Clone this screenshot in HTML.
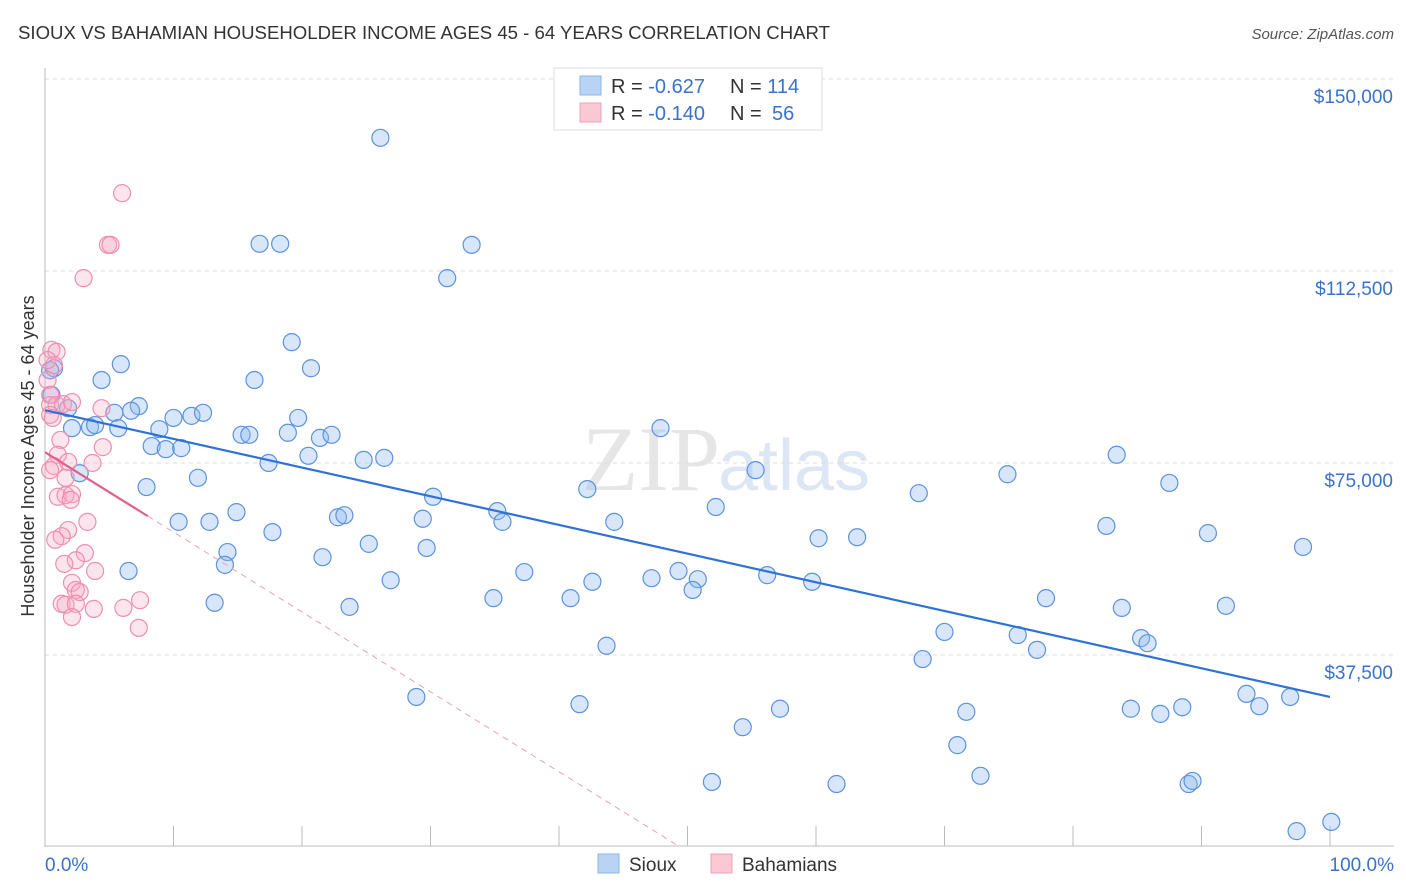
<!DOCTYPE html>
<html><head><meta charset="utf-8">
<style>
body{margin:0;background:#fff;font-family:"Liberation Sans",sans-serif;}
svg{display:block}
</style></head>
<body>
<svg id="chart" width="1406" height="892" xmlns="http://www.w3.org/2000/svg">
<text x="18" y="39" font-size="18" fill="#333" textLength="812" lengthAdjust="spacingAndGlyphs">SIOUX VS BAHAMIAN HOUSEHOLDER INCOME AGES 45 - 64 YEARS CORRELATION CHART</text>
<text x="1394" y="39" font-size="15" fill="#555" font-style="italic" text-anchor="end">Source: ZipAtlas.com</text>
<text x="720" y="490" font-size="92" fill="#e6e6e6" text-anchor="end" font-family="Liberation Serif">ZIP</text>
<text x="718" y="490" font-size="72" fill="#dde6f4">atlas</text>
<g id="grid"></g><g id="marks"></g>
<text transform="translate(34,456) rotate(-90)" font-size="18" fill="#333" text-anchor="middle">Householder Income Ages 45 - 64 years</text>
<g>
<rect x="554" y="68" width="268" height="62" fill="#fff" stroke="#ddd"/>
<rect x="580" y="76" width="21" height="19" fill="#b9d3f5" stroke="#8fb4e8"/>
<text x="611" y="93" font-size="20" fill="#333">R = <tspan fill="#3a72c9">-0.627</tspan></text>
<text x="730" y="93" font-size="20" fill="#333">N = <tspan fill="#3a72c9">114</tspan></text>
<rect x="580" y="103" width="21" height="19" fill="#fbc8d6" stroke="#f0a0b8"/>
<text x="611" y="120" font-size="20" fill="#333">R = <tspan fill="#3a72c9">-0.140</tspan></text>
<text x="730" y="120" font-size="20" fill="#333">N = <tspan x="772" fill="#3a72c9">56</tspan></text>
</g>
<g>
<rect x="598" y="854" width="21" height="19" fill="#b9d3f5" stroke="#8fb4e8"/>
<text x="629" y="871" font-size="19" fill="#333">Sioux</text>
<rect x="711" y="854" width="21" height="19" fill="#fbc8d6" stroke="#f0a0b8"/>
<text x="742" y="871" font-size="19" fill="#333">Bahamians</text>
</g>
</svg>
<script>
const yTicks=[37500,75000,112500,150000];
const yTickLabels=["$37,500","$75,000","$112,500","$150,000"];
const xEndLabels=["0.0%","100.0%"];
const siouxX=[26.1,16.7,18.3,33.2,31.3,19.2,5.9,20.7,4.4,16.3,0.7,0.5,1.8,7.3,6.7,5.4,10.0,11.4,12.3,19.7,2.1,3.5,3.9,5.7,8.9,15.3,15.9,18.9,21.4,22.3,47.9,8.3,9.4,10.6,20.5,24.8,26.4,17.4,83.4,55.3,74.9,87.5,11.9,2.7,7.9,42.2,30.2,68.0,52.2,35.2,14.9,22.8,23.3,29.4,35.6,10.4,12.8,44.3,82.6,17.7,90.5,60.2,63.2,25.2,97.9,29.7,14.2,21.6,14.0,6.5,37.3,49.3,56.2,47.2,50.8,26.9,42.6,59.7,50.4,34.9,40.9,77.9,13.2,23.7,83.8,91.9,70.0,75.7,85.3,85.8,43.7,77.2,68.3,28.9,93.5,94.5,96.9,41.6,57.2,71.7,84.5,86.8,88.5,54.3,71.0,72.8,51.9,61.6,89.0,89.3,97.4,100.1,0.4];
const siouxY=[138.5,117.8,117.8,117.6,111.1,98.6,94.3,93.5,91.2,91.2,93.5,88.3,85.7,86.1,85.2,84.8,83.8,84.2,84.8,83.8,81.8,82.0,82.4,81.8,81.6,80.5,80.5,80.9,79.9,80.5,81.8,78.3,77.7,77.9,76.4,75.6,76.0,75.0,76.6,73.6,72.8,71.1,72.1,73.0,70.3,69.9,68.4,69.1,66.4,65.6,65.4,64.4,64.8,64.1,63.5,63.5,63.5,63.5,62.7,61.5,61.3,60.3,60.5,59.2,58.6,58.4,57.6,56.6,55.1,53.9,53.7,53.9,53.1,52.5,52.3,52.1,51.8,51.8,50.2,48.6,48.6,48.6,47.7,46.9,46.7,47.1,42.0,41.4,40.8,39.8,39.3,38.5,36.7,29.3,29.9,27.5,29.3,27.9,27.0,26.4,27.0,26.0,27.3,23.4,19.9,13.9,12.7,12.3,12.3,12.9,3.1,4.9,93.1];
const bahX=[6.0,4.9,5.1,3.0,0.5,0.9,0.2,0.7,0.4,0.4,0.9,1.4,2.1,4.4,0.4,0.6,1.2,4.5,1.0,3.7,0.7,1.8,1.6,1.0,1.6,2.1,2.0,3.3,1.8,1.3,0.8,3.1,2.4,1.5,3.9,2.1,2.4,2.7,7.4,1.3,1.6,2.4,3.8,6.1,2.1,7.3,0.2,0.4];
const bahY=[127.7,117.6,117.6,111.1,97.1,96.7,91.2,94.1,88.3,86.3,86.3,86.5,86.9,85.7,84.4,83.8,79.5,78.1,76.6,75.0,74.4,75.2,72.1,68.4,68.7,68.9,67.8,63.5,61.9,60.7,60.0,57.4,56.0,55.3,53.9,51.6,50.2,49.8,48.2,47.5,47.3,47.5,46.5,46.7,44.9,42.8,95.1,73.6];
const siouxTrend=[85.3,-0.56];
const bahTrend=[77.1,-1.56];
const bahSolidEnd=8;

const NS="http://www.w3.org/2000/svg";
const X=v=>45+v*12.85;
function yk(k){return 847-k/0.1953;}
function mk(tag,attrs,parent){const e=document.createElementNS(NS,tag);for(const k in attrs)e.setAttribute(k,attrs[k]);parent.appendChild(e);return e;}
const grid=document.getElementById('grid'),marks=document.getElementById('marks');
yTicks.forEach((t,i)=>{
  const g=mk('line',{x1:45,x2:1394,y1:yk(t/1000),y2:yk(t/1000),stroke:'#ddd','stroke-dasharray':'4,4'},grid);
  
  
  const l=mk('text',{x:1393,y:yk(t/1000)+24,'font-size':19,fill:'#3a72c9','text-anchor':'end'},grid);
  l.textContent=yTickLabels[i];
  
  
});
const ax=mk('line',{x1:45,x2:45,y1:68,y2:847,stroke:'#bbb'},grid);


const bx=mk('line',{x1:45,x2:1394,y1:846,y2:846,stroke:'#bbb'},grid);


for(let i=0;i<=10;i++){
  const t=mk('line',{x1:X(i*10),x2:X(i*10),y1:826,y2:846,stroke:'#bbb'},grid);
  
  
}
[[0,'start',45],[1,'end',1394]].forEach(([i,a,x])=>{
  const t=mk('text',{x:x,y:871,'font-size':19,fill:'#3a72c9','text-anchor':a},grid);
  t.textContent=xEndLabels[i];
  
  
});
siouxX.forEach((x,i)=>{
  const c=mk('circle',{cx:X(x),cy:yk(siouxY[i]),r:8.5,fill:'rgba(140,184,240,0.35)',stroke:'#5b93dc','stroke-width':1.2},marks);
  
  
});
bahX.forEach((x,i)=>{
  const c=mk('circle',{cx:X(x),cy:yk(bahY[i]),r:8.5,fill:'rgba(248,170,195,0.3)',stroke:'#ee8fae','stroke-width':1.2},marks);
  
  
});
const st=mk('line',{x1:X(0),y1:yk(siouxTrend[0]),x2:X(100),y2:yk(siouxTrend[0]+100*siouxTrend[1]),stroke:'#2f72d6','stroke-width':2.2},marks);


const bs=mk('line',{x1:X(0),y1:yk(bahTrend[0]),x2:X(bahSolidEnd),y2:yk(bahTrend[0]+bahSolidEnd*bahTrend[1]),stroke:'#e0608a','stroke-width':2.2},marks);


const xz=-bahTrend[0]/bahTrend[1];
const bd=mk('line',{x1:X(bahSolidEnd),y1:yk(bahTrend[0]+bahSolidEnd*bahTrend[1]),x2:X(xz),y2:yk(0),stroke:'#eaa0b8','stroke-width':1,'stroke-dasharray':'6,5'},marks);


</script>
</body></html>
